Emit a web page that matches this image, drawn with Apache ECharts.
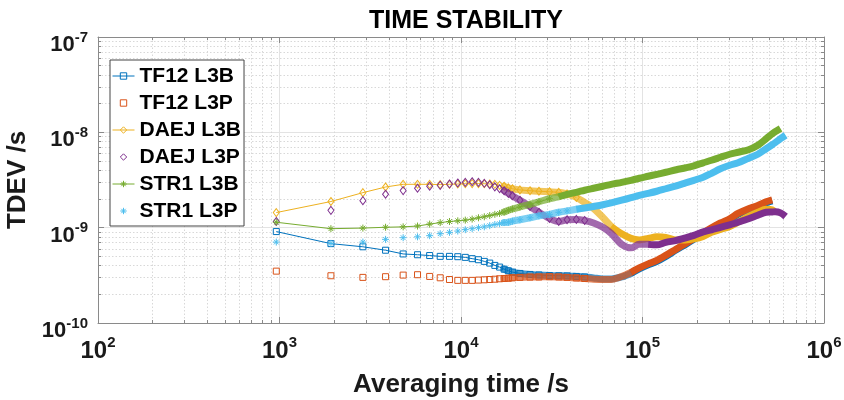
<!DOCTYPE html>
<html>
<head>
<meta charset="utf-8">
<script src="https://cdn.jsdelivr.net/npm/echarts@6/dist/echarts.min.js"></script>
<style>
html,body{margin:0;padding:0;background:#fff}
#chart{width:844px;height:400px}
</style>
</head>
<body>
<div id="chart"></div>
<script>
// Averaging times (s)
const tauSec = [960,1920,2880,3840,4800,5760,6720,7680,8640,9600,
  10560,11520,12480,13440,14400,15360,16320,17280,18240,19200,
  21120,24000,26880,30720,34560,38400,43200,48000,53760,60480,
  67200,76800,86400,96000,107520,120000,134400,153600,172800,192000,
  216000,240000,268800,302400,336000,384000,432000,480000,518400,537600,
  576000,614400];

// TDEV (s) per receiver / solution
const tf12L3B = [9.1e-10,6.8e-10,6.3e-10,5.8e-10,5.3e-10,5.2e-10,5.1e-10,5.0e-10,5.0e-10,4.96e-10,
  4.88e-10,4.73e-10,4.61e-10,4.43e-10,4.25e-10,4.02e-10,3.86e-10,3.67e-10,3.53e-10,3.42e-10,
  3.31e-10,3.23e-10,3.19e-10,3.15e-10,3.13e-10,3.12e-10,3.08e-10,3.04e-10,2.97e-10,2.90e-10,
  2.90e-10,3.04e-10,3.31e-10,3.69e-10,4.07e-10,4.43e-10,4.99e-10,5.85e-10,6.68e-10,7.54e-10,
  8.61e-10,9.71e-10,1.10e-9,1.21e-9,1.38e-9,1.54e-9,1.67e-9,1.82e-9,1.91e-9];
const tf12L3P = [3.50e-10,3.13e-10,3.01e-10,3.06e-10,3.18e-10,3.21e-10,3.08e-10,2.98e-10,2.86e-10,2.80e-10,
  2.80e-10,2.80e-10,2.82e-10,2.84e-10,2.86e-10,2.88e-10,2.91e-10,2.93e-10,2.95e-10,2.98e-10,
  3.01e-10,3.03e-10,3.04e-10,3.06e-10,3.04e-10,3.01e-10,2.97e-10,2.93e-10,2.88e-10,2.86e-10,
  2.86e-10,3.08e-10,3.39e-10,3.78e-10,4.17e-10,4.53e-10,5.12e-10,5.99e-10,6.84e-10,7.72e-10,
  8.82e-10,9.95e-10,1.12e-9,1.24e-9,1.41e-9,1.58e-9,1.71e-9,1.87e-9,1.96e-9];
const daejL3B = [1.44e-9,1.88e-9,2.33e-9,2.67e-9,2.85e-9,2.85e-9,2.85e-9,2.83e-9,2.85e-9,2.87e-9,
  2.89e-9,2.90e-9,2.90e-9,2.89e-9,2.87e-9,2.85e-9,2.78e-9,2.72e-9,2.62e-9,2.56e-9,
  2.49e-9,2.44e-9,2.41e-9,2.38e-9,2.35e-9,2.26e-9,2.08e-9,1.84e-9,1.59e-9,1.28e-9,
  1.03e-9,8.61e-10,7.72e-10,7.44e-10,7.72e-10,8.01e-10,7.91e-10,7.44e-10,7.44e-10,7.63e-10,
  8.10e-10,8.93e-10,9.60e-10,1.03e-9,1.14e-9,1.31e-9,1.45e-9,1.56e-9,1.54e-9,1.45e-9];
const daejL3P = [1.16e-9,1.52e-9,1.92e-9,2.24e-9,2.45e-9,2.59e-9,2.72e-9,2.78e-9,2.87e-9,2.94e-9,
  2.99e-9,3.03e-9,2.99e-9,2.92e-9,2.82e-9,2.68e-9,2.56e-9,2.44e-9,2.29e-9,2.16e-9,
  1.94e-9,1.67e-9,1.45e-9,1.25e-9,1.16e-9,1.21e-9,1.22e-9,1.19e-9,1.12e-9,1.01e-9,
  8.71e-10,6.68e-10,6.14e-10,6.68e-10,6.68e-10,6.60e-10,7.01e-10,7.35e-10,7.81e-10,8.30e-10,
  9.03e-10,9.48e-10,1.01e-9,1.07e-9,1.14e-9,1.24e-9,1.35e-9,1.45e-9,1.46e-9,1.47e-9,
  1.43e-9,1.31e-9];
const str1L3B = [1.14e-9,9.76e-10,9.90e-10,1.01e-9,1.02e-9,1.04e-9,1.09e-9,1.13e-9,1.16e-9,1.18e-9,
  1.20e-9,1.23e-9,1.27e-9,1.30e-9,1.34e-9,1.38e-9,1.41e-9,1.46e-9,1.52e-9,1.57e-9,
  1.65e-9,1.76e-9,1.87e-9,2.01e-9,2.11e-9,2.24e-9,2.35e-9,2.47e-9,2.59e-9,2.72e-9,
  2.85e-9,2.99e-9,3.14e-9,3.30e-9,3.46e-9,3.63e-9,3.81e-9,4.05e-9,4.25e-9,4.46e-9,
  4.79e-9,5.09e-9,5.48e-9,5.89e-9,6.18e-9,6.57e-9,7.32e-9,8.57e-9,9.67e-9,1.015e-8,
  1.10e-8];
const str1L3P = [7.06e-10,6.84e-10,7.06e-10,7.54e-10,7.85e-10,8.01e-10,8.24e-10,8.65e-10,8.93e-10,9.21e-10,
  9.53e-10,9.76e-10,1.00e-9,1.02e-9,1.05e-9,1.08e-9,1.10e-9,1.13e-9,1.14e-9,1.17e-9,
  1.21e-9,1.27e-9,1.33e-9,1.38e-9,1.45e-9,1.50e-9,1.56e-9,1.61e-9,1.67e-9,1.74e-9,
  1.82e-9,1.94e-9,2.06e-9,2.18e-9,2.29e-9,2.41e-9,2.56e-9,2.75e-9,2.95e-9,3.14e-9,
  3.38e-9,3.72e-9,4.15e-9,4.51e-9,4.79e-9,5.35e-9,5.89e-9,6.72e-9,7.41e-9,7.78e-9,
  8.57e-9,9.32e-9];

const seriesNames = ['TF12 L3B','TF12 L3P','DAEJ L3B','DAEJ L3P','STR1 L3B','STR1 L3P'];

// Axis ticks
const xMajor = [1e2,1e3,1e4,1e5,1e6];
const xMinor = [200,300,400,500,600,700,800,900,
  2000,3000,4000,5000,6000,7000,8000,9000,
  20000,30000,40000,50000,60000,70000,80000,90000,
  200000,300000,400000,500000,600000,700000,800000,900000];
const yMajor = [1e-10,1e-9,1e-8,1e-7];
const yMinor = [2e-10,3e-10,4e-10,5e-10,6e-10,7e-10,8e-10,9e-10,
  2e-9,3e-9,4e-9,5e-9,6e-9,7e-9,8e-9,9e-9,
  2e-8,3e-8,4e-8,5e-8,6e-8,7e-8,8e-8,9e-8];

const FONT = '"Liberation Sans", Arial, Helvetica, sans-serif';
const AXIS_GRAY = '#8a8a8a';
const asterisk = 'path://M5,0L5,10M0,5L10,5M1.6,1.6L8.4,8.4M8.4,1.6L1.6,8.4';

// markEnd: end of the individually drawn markers; solidFrom: first point of the solid band
const styles = [
  {values: tf12L3B, color: '#0072BD', symbol: 'rect', size: 6, joined: true, markEnd: 28, solidFrom: 32},
  {values: tf12L3P, color: '#D95319', symbol: 'rect', size: 6, joined: false, markEnd: 28, solidFrom: 32},
  {values: daejL3B, color: '#EDB120', symbol: 'diamond', size: [6, 8], joined: true, markEnd: 27, solidFrom: 30},
  {values: daejL3P, color: '#7E2F8E', symbol: 'diamond', size: [6, 8], joined: false, markEnd: 28, solidFrom: 34},
  {values: str1L3B, color: '#77AC30', symbol: asterisk, size: 7, joined: true, markEnd: 24, solidFrom: 24},
  {values: str1L3P, color: '#4DBEEE', symbol: asterisk, size: 7, joined: false, markEnd: 26, solidFrom: 26}
];

function expLabel(v) {
  return '{b|10}{s|' + Math.round(Math.log10(v)) + '}';
}

function logAxis(kind, position, tickValues, major) {
  const isX = kind === 'x';
  return {
    type: 'log', logBase: 10, position: position,
    min: isX ? 1e2 : 1e-10, max: isX ? 1e6 : 1e-7,
    axisLine: {show: major, lineStyle: {color: AXIS_GRAY, width: 1}},
    axisTick: {show: true, inside: true, length: major ? 6 : 3,
      customValues: tickValues, lineStyle: {color: AXIS_GRAY, width: 1}},
    minorTick: {show: false},
    axisLabel: {show: false},
    splitLine: {show: false},
    z: 5
  };
}

const xAxes = [];
const yAxes = [];

// bottom axis: major ticks, labels, solid grid
const xMain = logAxis('x', 'bottom', xMajor, true);
xMain.axisLabel = {
  show: true, customValues: xMajor, margin: 12, formatter: expLabel,
  rich: {
    b: {fontFamily: FONT, fontSize: 24, fontWeight: 'bold', color: '#1a1a1a', lineHeight: 28, verticalAlign: 'bottom'},
    s: {fontFamily: FONT, fontSize: 15, fontWeight: 'bold', color: '#1a1a1a', lineHeight: 12, verticalAlign: 'top'}
  }
};
xMain.splitLine = {show: true, lineStyle: {color: '#e3e3e3', width: 1}};
xMain.name = 'Averaging time /s';
xMain.nameLocation = 'middle';
xMain.nameGap = 49;
xMain.nameTextStyle = {fontFamily: FONT, fontSize: 26, fontWeight: 'bold', color: '#1a1a1a'};
xAxes.push(xMain);
// bottom axis: minor ticks, dotted grid
const xMin = logAxis('x', 'bottom', xMinor, false);
xMin.splitLine = {show: true, lineStyle: {color: '#d8d8d8', width: 1, type: [1.5, 2]}};
xAxes.push(xMin);
// top edge of the box
xAxes.push(logAxis('x', 'top', xMajor, true));
xAxes.push(logAxis('x', 'top', xMinor, false));

const yMain = logAxis('y', 'left', yMajor, true);
yMain.axisLabel = {
  show: true, customValues: yMajor, margin: 10, formatter: expLabel, padding: [12, 0, 0, 0],
  rich: {
    b: {fontFamily: FONT, fontSize: 22, fontWeight: 'bold', color: '#1a1a1a', lineHeight: 26, verticalAlign: 'bottom'},
    s: {fontFamily: FONT, fontSize: 15, fontWeight: 'bold', color: '#1a1a1a', lineHeight: 12, verticalAlign: 'top'}
  }
};
yMain.splitLine = {show: true, lineStyle: {color: '#e3e3e3', width: 1}};
yMain.name = 'TDEV /s';
yMain.nameLocation = 'middle';
yMain.nameGap = 57;
yMain.nameTextStyle = {fontFamily: FONT, fontSize: 26, fontWeight: 'bold', color: '#1a1a1a'};
yAxes.push(yMain);
const yMin = logAxis('y', 'left', yMinor, false);
yMin.splitLine = {show: true, lineStyle: {color: '#d8d8d8', width: 1, type: [1.5, 2]}};
yAxes.push(yMin);
yAxes.push(logAxis('y', 'right', yMajor, true));
yAxes.push(logAxis('y', 'right', yMinor, false));

const series = [];
const legendData = [];
styles.forEach(function (st, k) {
  const pts = st.values.map(function (v, i) { return [tauSec[i], v]; });
  // individual markers at the short averaging times
  series.push({
    type: 'line', name: seriesNames[k], data: pts.slice(0, st.markEnd),
    xAxisIndex: 0, yAxisIndex: 0,
    symbol: st.symbol, symbolSize: st.size, symbolKeepAspect: true, showSymbol: true,
    itemStyle: {color: 'rgba(255,255,255,0)', borderColor: st.color, borderWidth: 1},
    lineStyle: {color: st.color, width: 1, opacity: st.joined ? 1 : 0},
    emphasis: {disabled: true}, z: 10 + k * 3
  });
  // overlapping markers: hatched band
  series.push({
    type: 'line', name: seriesNames[k], data: pts.slice(17, st.solidFrom + 1),
    xAxisIndex: 0, yAxisIndex: 0, symbol: 'none', smooth: 0.3,
    lineStyle: {color: st.color, width: 7, opacity: 0.72, cap: 'round', join: 'round'},
    emphasis: {disabled: true}, z: 11 + k * 3
  });
  // fully merged markers: solid band
  series.push({
    type: 'line', name: seriesNames[k], data: pts.slice(st.solidFrom),
    xAxisIndex: 0, yAxisIndex: 0, symbol: 'none', smooth: 0.3,
    lineStyle: {color: st.color, width: 7, opacity: 1, cap: 'butt', join: 'round'},
    emphasis: {disabled: true}, z: 12 + k * 3
  });
  legendData.push({
    name: seriesNames[k],
    itemStyle: {color: 'rgba(255,255,255,0)', borderColor: st.color, borderWidth: 1},
    lineStyle: {color: st.color, width: 1, opacity: st.joined ? 1 : 0}
  });
});

const chart = echarts.init(document.getElementById('chart'), null, {renderer: 'canvas'});
chart.setOption({
  animation: false,
  backgroundColor: '#ffffff',
  textStyle: {fontFamily: FONT},
  title: {
    text: 'TIME STABILITY', left: 461, top: 4, textAlign: 'center',
    textStyle: {fontFamily: FONT, fontSize: 25, fontWeight: 'bold', color: '#000'}
  },
  grid: {left: 98, right: 20, top: 37, bottom: 77, containLabel: false, outerBoundsMode: 'none'},
  legend: {
    data: legendData, orient: 'vertical', left: 110, top: 60,
    itemWidth: 22, itemHeight: 8, itemGap: 5,
    padding: [5, 3, 4, 2],
    backgroundColor: '#ffffff', borderColor: '#444', borderWidth: 1, borderRadius: 0,
    textStyle: {fontFamily: FONT, fontSize: 21, fontWeight: 'bold', color: '#000', lineHeight: 22},
    selectedMode: false, z: 50
  },
  xAxis: xAxes,
  yAxis: yAxes,
  series: series
});
</script>
</body>
</html>
